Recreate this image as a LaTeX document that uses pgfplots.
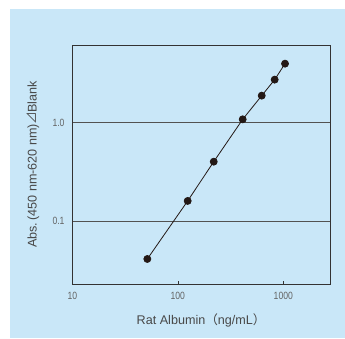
\documentclass[border=0pt]{standalone}
\usepackage{pgfplots}
\pgfplotsset{compat=1.18}
\usepackage{fontspec}
\setmainfont{Liberation Sans}
\newfontfamily\cjk{Noto Sans CJK JP}
\newfontfamily\tickfont{Liberation Sans}[FakeStretch=0.82]
\definecolor{bgblue}{HTML}{C9E7F8}
\definecolor{txtgray}{HTML}{484848}
\definecolor{axgray}{HTML}{333333}
\definecolor{ink}{HTML}{231815}
\begin{document}
\begin{tikzpicture}
\path[use as bounding box] (0,0) rectangle (345pt,338pt);
\fill[bgblue] (10pt,0) rectangle (345pt,329pt);
\begin{axis}[
  at={(72.33pt,53.67pt)}, anchor=south west,
  scale only axis, width=257.67pt, height=239.33pt,
  xmode=log, ymode=log,
  xmin=10, xmax=2770, ymin=0.0227, ymax=6.16,
  xtick={10,100,1000}, xticklabels={10,100,1000},
  ytick={0.1,1}, yticklabels={0.1,1.0},
  xminorticks=false, yminorticks=false,
  xtick pos=bottom, ytick pos=left,
  xtick align=inside,
  major tick length=3.5pt,
  x tick style={axgray, line width=0.6pt},
  y tick style={draw=none},
  ymajorgrids,
  major grid style={black!68, line width=0.7pt},
  axis line style={axgray, line width=0.8pt},
  tick label style={font=\tickfont\fontsize{10.5}{11}\selectfont, text=txtgray!85},
  /pgf/number format/assume math mode=true,
  xticklabel style={yshift=-4.5pt},
  yticklabel style={xshift=-4.3pt},
  xlabel={Rat Albumin{\cjk （}ng/mL{\cjk ）}},
  ylabel={Abs.\,(450 nm-620 nm)\kern-0.5pt{\cjk ⊿}\kern-1pt Blank},
  label style={font=\fontsize{12.6}{14}\selectfont, text=txtgray},
  xlabel style={at={(axis description cs:0.5,-0.149)}, anchor=center},
  ylabel style={at={(axis description cs:-0.1526,0.5)}, anchor=center},
]
\addplot[ink, line width=0.8pt, mark=*, mark size=3.5pt, mark options={fill=ink, draw=ink}]
  coordinates {(51.4,0.0411) (124,0.160) (219,0.401) (412,1.081) (624,1.882) (828,2.737) (1038,3.98)};
\end{axis}
\end{tikzpicture}
\end{document}
